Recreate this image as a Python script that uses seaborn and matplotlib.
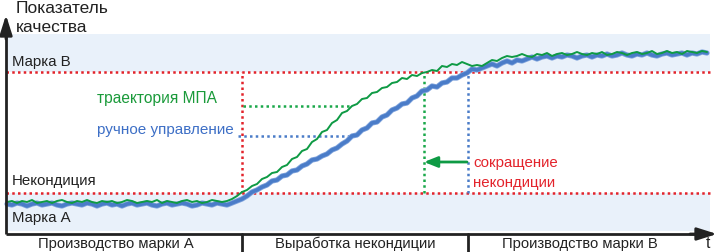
import numpy as np
import pandas as pd
import matplotlib
matplotlib.use("Agg")
import matplotlib.pyplot as plt
import seaborn as sns

# ---------------- data ----------------
time = np.arange(7, 711, 5)  # time samples (px-like units)

green_mpa = [32,33,31,33,32,34,31,32,33,31,33,34,32,31,33,32,34,32,31,33,32,33,31,32,34,
             33,31,32,33,32,34,31,33,32,31,33,34,32,33,31,32,34,33,32,33,
             35,38,42,44,48,50,55,57,61,62,67,69,75,77,83,85,92,95,102,104,111,114,121,123,128,
             130,135,136,141,142,146,147,151,152,156,155,159,158,161,162,164,163,168,167,170,
             169,172,170,168,169,168,
             171,174,173,176,178,177,
             178,180,178,177,180,179,181,178,180,181,179,180,182,180,179,181,180,182,179,180,
             182,181,179,181,182,180,181,183,180,181,183,181,182,180,183,182,181,183,182]

blue_manual = [30,29,31,30,28,30,31,29,30,31,29,28,30,31,30,29,31,30,28,30,31,29,30,28,30,
               31,29,30,31,29,28,30,31,29,30,31,30,28,29,31,30,29,31,30,29,
               31,33,35,38,42,44,47,49,53,54,58,59,63,64,68,70,74,75,78,80,84,86,90,93,98,
               99,104,106,111,112,117,119,124,126,130,131,136,138,143,144,148,147,151,152,156,
               156,159,161,165,164,166,
               168,170,168,171,173,171,174,173,175,177,175,177,178,176,178,177,179,178,176,178,
               179,177,179,178,180,178,179,181,179,178,180,179,181,179,178,180,181,179,180,181,
               179,181,180,182,181]

series_names = ["траектория МПА", "ручное управление"]
level_B = 162          # Марка B threshold
level_off = 41         # Некондиция threshold
band_top = 200
t_switch = 242         # start of off-spec production
t_mpa = 424            # MPA reaches grade B
t_manual = 468         # manual control reaches grade B
q_mpa_label = 128
q_manual_label = 98
t_label_end = 352

phase_labels = ["Производство марки А", "Выработка некондиции", "Производство марки В"]
level_labels = ["Марка В", "Некондиция", "Марка А"]

# ---------------- style ----------------
GREEN = "#0e9a44"
BLUE = "#4a7cc8"
RED = "#e3232b"
BAND = "#e9f1fa"
DARK = "#222222"

sns.set_style("white")
plt.rcParams["font.family"] = ["Liberation Sans", "DejaVu Sans"]

fig = plt.figure(figsize=(7.18, 2.53), dpi=100)
ax = fig.add_axes([0, 0, 1, 1])

# bands
ax.fill_between([6, 710], level_B, band_top, color=BAND, lw=0, zorder=0)
ax.fill_between([6, 710], 3, level_off, color=BAND, lw=0, zorder=0)

dot = (0, (1.0, 1.3))
ax.plot([6, 710], [level_B, level_B], color=RED, lw=1.8, ls=dot, zorder=1)
ax.plot([6, 710], [level_off, level_off], color=RED, lw=1.8, ls=dot, zorder=1)
ax.plot([t_switch, t_switch], [level_off, level_B], color=RED, lw=1.8, ls=dot, zorder=1)
ax.plot([t_mpa, t_mpa], [level_off, 159], color="#1aa84a", lw=1.8, ls=dot, zorder=1)
ax.plot([t_manual, t_manual], [level_off, 160], color=BLUE, lw=1.8, ls=dot, zorder=1)
ax.plot([243, t_label_end], [q_mpa_label, q_mpa_label], color="#1aa84a", lw=1.8, ls=dot, zorder=1)
ax.plot([238, t_label_end], [q_manual_label, q_manual_label], color=BLUE, lw=1.8, ls=dot, zorder=1)

# curves
df = pd.DataFrame({
    "t": np.concatenate([time, time]),
    "q": np.concatenate([green_mpa, blue_manual]),
    "s": [series_names[0]] * len(time) + [series_names[1]] * len(time),
})
blue_df = df[df.s == series_names[1]]
green_df = df[df.s == series_names[0]]
sns.lineplot(data=blue_df, x="t", y="q", ax=ax, color="#7ea3dc",
             lw=3.8, legend=False, zorder=3)
sns.lineplot(data=blue_df, x="t", y="q", ax=ax, color=BLUE,
             lw=2.6, legend=False, zorder=4)
sns.lineplot(data=green_df, x="t", y="q", ax=ax, color=GREEN,
             lw=1.4, legend=False, zorder=5)
ax.set_xlim(0, 718)
ax.set_ylim(-18, 235)
ax.axis("off")

# green arrow
ax.annotate("", xy=(t_mpa, 72), xytext=(t_manual - 1, 72),
            arrowprops=dict(arrowstyle="-|>,head_length=0.8,head_width=0.32",
                            color=GREEN, lw=2, shrinkA=0, shrinkB=0), zorder=6)

# axes with arrows
ax.plot([6, 6], [0, 200], color=DARK, lw=2, solid_capstyle="butt", zorder=7)
ax.plot([6, 700], [0, 0], color=DARK, lw=2, solid_capstyle="butt", zorder=7)
ax.annotate("", xy=(6, 219), xytext=(6, 195),
            arrowprops=dict(arrowstyle="-|>,head_length=1.2,head_width=0.38",
                            color=DARK, lw=2, shrinkA=0, shrinkB=0), zorder=7)
ax.annotate("", xy=(717, 0), xytext=(690, 0),
            arrowprops=dict(arrowstyle="-|>,head_length=1.2,head_width=0.38",
                            color=DARK, lw=2, shrinkA=0, shrinkB=0), zorder=7)
for tx in (t_switch, t_manual):
    ax.plot([tx, tx], [0, -18], color=DARK, lw=2, zorder=7)

fs = 10.8
ax.text(16, 227, "Показатель", fontsize=12.5, color=DARK, va="center", ha="left")
ax.text(16, 208, "качества", fontsize=12.5, color=DARK, va="center", ha="left")
ax.text(12, 173, level_labels[0], fontsize=fs, color=DARK, va="center", ha="left")
ax.text(12, 54, level_labels[1], fontsize=fs, color=DARK, va="center", ha="left")
ax.text(12, 17, level_labels[2], fontsize=fs, color=DARK, va="center", ha="left")
ax.text(97, 136, series_names[0], fontsize=11.2, color="#1a9a3a", va="center", ha="left")
ax.text(97, 105, series_names[1], fontsize=11, color="#3d6fc6", va="center", ha="left")
ax.text(473, 72, "сокращение", fontsize=fs, color=RED, va="center", ha="left")
ax.text(473, 52, "некондиции", fontsize=fs, color=RED, va="center", ha="left")
for cx, lab in zip((116, 355, 580), phase_labels):
    ax.text(cx, -9, lab, fontsize=10.6, color=DARK, va="center", ha="center")
ax.text(708, -9, "t", fontsize=11.2, color=DARK, va="center", ha="center")

fig.savefig("out.png", dpi=100)
